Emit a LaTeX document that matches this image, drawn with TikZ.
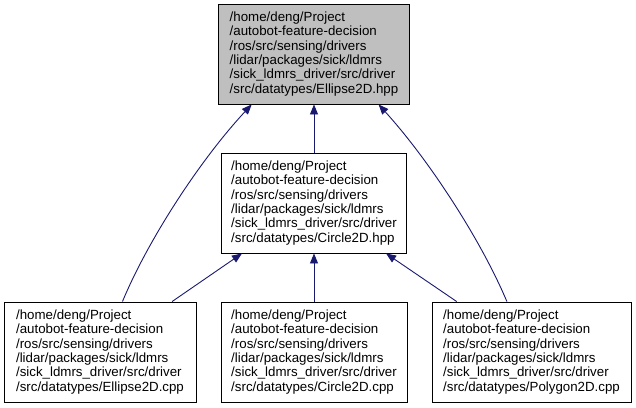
\documentclass[tikz,border=0pt]{standalone}
\usepackage{fontspec}
\setmainfont{Liberation Sans}
\usepackage{xcolor}
\usetikzlibrary{
	arrows.meta,
	calc
}
\definecolor{edgeblue}{HTML}{191970}
\definecolor{rootgray}{HTML}{BFBFBF}

\begin{document}
\begin{tikzpicture}[x=1pt, y=-1pt,
	file/.style={draw=black, line width=0.9pt, minimum height=100pt, inner sep=0pt,
		align=left, font=\fontsize{13.3}{14.3}\selectfont},
	dep/.style={draw=edgeblue, line width=0.9pt,
		-{Triangle[length=10pt, width=8pt, fill=edgeblue]}}]
	\useasboundingbox (0,0) rectangle (636,407);
	
	% 头文件
	\node[file, fill=rootgray, minimum width=191pt] (ehpp) at (314,54)
	{/home/deng/Project\\/autobot-feature-decision\\/ros/src/sensing/drivers\\/lidar/packages/sick/ldmrs\\/sick\_ldmrs\_driver/src/driver\\/src/datatypes/Ellipse2D.hpp};
	\node[file, minimum width=185pt] (chpp) at (314,203)
	{/home/deng/Project\\/autobot-feature-decision\\/ros/src/sensing/drivers\\/lidar/packages/sick/ldmrs\\/sick\_ldmrs\_driver/src/driver\\/src/datatypes/Circle2D.hpp};
	
	% 源文件
	\node[file, minimum width=192pt] (ecpp) at (100,352)
	{/home/deng/Project\\/autobot-feature-decision\\/ros/src/sensing/drivers\\/lidar/packages/sick/ldmrs\\/sick\_ldmrs\_driver/src/driver\\/src/datatypes/Ellipse2D.cpp};
	\node[file, minimum width=186pt] (ccpp) at (314,352)
	{/home/deng/Project\\/autobot-feature-decision\\/ros/src/sensing/drivers\\/lidar/packages/sick/ldmrs\\/sick\_ldmrs\_driver/src/driver\\/src/datatypes/Circle2D.cpp};
	\node[file, minimum width=199pt] (pcpp) at (531.5,352)
	{/home/deng/Project\\/autobot-feature-decision\\/ros/src/sensing/drivers\\/lidar/packages/sick/ldmrs\\/sick\_ldmrs\_driver/src/driver\\/src/datatypes/Polygon2D.cpp};
	
	% 包含关系
	\draw[dep] (chpp.north) -- (ehpp.south);
	\draw[dep] (ccpp.north) -- (chpp.south);
	\draw[dep] (ecpp.35) -- (chpp.215);
	\draw[dep] (pcpp.146) -- (chpp.325);
	\draw[dep] (ecpp.66) .. controls (148,240) and (200,160) .. (ehpp.219);
	\draw[dep] (pcpp.116) .. controls (481,240) and (429,160) .. (ehpp.322);
\end{tikzpicture}
\end{document}
